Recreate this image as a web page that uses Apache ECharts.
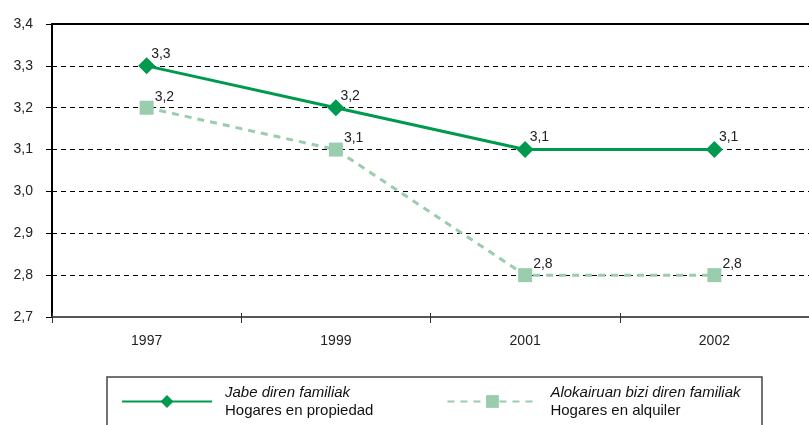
<!DOCTYPE html>
<html lang="es">
<head>
    <meta charset="UTF-8">
    <title>Hogares</title>
    <script src="https://cdn.jsdelivr.net/npm/echarts@6/dist/echarts.min.js"></script>
    <style>
        html, body { margin: 0; padding: 0; background: #fff; }
        #main { width: 809px; height: 425px; }
    </style>
</head>
<body>
<div id="main"></div>
<script>
    // datos
    var years = ['1997', '1999', '2001', '2002'];
    var propiedad = [3.3, 3.2, 3.1, 3.1];
    var alquiler = [3.2, 3.1, 2.8, 2.8];
    var nombresEu = ['Jabe diren familiak', 'Alokairuan bizi diren familiak'];
    var nombresEs = ['Hogares en propiedad', 'Hogares en alquiler'];
    var yMin = 2.7, yMax = 3.4, yStep = 0.1;

    var font = 'Liberation Sans, Arial, sans-serif';
    var verde = '#009a4e';
    var verdeClaro = '#99cdae';

    function coma(v) {
        return Number(v).toFixed(1).replace('.', ',');
    }

    var myChart = echarts.init(document.getElementById('main'));

    var option = {
        animation: false,
        textStyle: { fontFamily: font },
        grid: { left: 52, right: -7, top: 24, bottom: 108 },
        xAxis: [
            {
                type: 'category',
                data: years,
                boundaryGap: true,
                axisLine: { lineStyle: { color: '#555', width: 2 } },
                axisTick: { show: true, length: 6, lineStyle: { color: '#333', width: 1 } },
                axisLabel: { margin: 17, fontSize: 14, color: '#222', fontFamily: font }
            },
            {
                // ticks hacia dentro
                type: 'category',
                data: years,
                position: 'bottom',
                offset: 0,
                axisLine: { show: false },
                axisTick: { show: true, inside: true, length: 4, lineStyle: { color: '#333', width: 1 } },
                axisLabel: { show: false }
            },
            {
                // linea superior
                type: 'category',
                data: years,
                position: 'top',
                axisLine: { lineStyle: { color: '#000', width: 2 } },
                axisTick: { show: false },
                axisLabel: { show: false }
            }
        ],
        yAxis: {
            type: 'value',
            min: yMin,
            max: yMax,
            interval: yStep,
            axisLine: { show: true, lineStyle: { color: '#000', width: 2 } },
            axisTick: { show: true, length: 6, lineStyle: { color: '#000', width: 1 } },
            axisLabel: {
                margin: 19, fontSize: 14, color: '#222', fontFamily: font,
                formatter: function (v) { return coma(v); }
            },
            splitLine: { lineStyle: { color: '#000', width: 1, type: [5, 4] } }
        },
        legend: {
            left: 121,
            top: 385,
            padding: 0,
            itemWidth: 90,
            itemHeight: 16,
            itemGap: 73,
            data: nombresEu,
            formatter: function (name) {
                var i = nombresEu.indexOf(name);
                return '{a|' + name + '}\n{b|' + nombresEs[i] + '}';
            },
            textStyle: {
                fontFamily: font,
                rich: {
                    a: { fontStyle: 'italic', fontSize: 15, lineHeight: 18, color: '#111', fontFamily: font, padding: [0, 0, 0, 8] },
                    b: { fontSize: 15, lineHeight: 18, color: '#111', fontFamily: font, padding: [0, 0, 0, 8] }
                }
            }
        },
        graphic: [
            {
                type: 'rect',
                shape: { x: 107, y: 377, width: 655, height: 70 },
                style: { fill: 'none', stroke: '#444', lineWidth: 1.5 },
                silent: true
            }
        ],
        series: [
            {
                name: nombresEu[1],
                type: 'line',
                data: alquiler,
                symbol: 'rect',
                symbolSize: 14,
                itemStyle: { color: verdeClaro },
                lineStyle: { color: verdeClaro, width: 3, type: [7, 6] },
                label: {
                    show: true, position: 'right', distance: 5, offset: [-4, -11],
                    fontSize: 14, color: '#222', fontFamily: font,
                    formatter: function (p) { return coma(p.value); }
                },
                z: 2
            },
            {
                name: nombresEu[0],
                type: 'line',
                data: propiedad,
                symbol: 'diamond',
                symbolSize: 17,
                itemStyle: { color: verde },
                lineStyle: { color: verde, width: 3 },
                label: {
                    show: true, position: 'right', distance: 5, offset: [-9, -12],
                    fontSize: 14, color: '#222', fontFamily: font,
                    formatter: function (p) { return coma(p.value); }
                },
                z: 3
            }
        ]
    };

    myChart.setOption(option);
</script>
</body>
</html>
